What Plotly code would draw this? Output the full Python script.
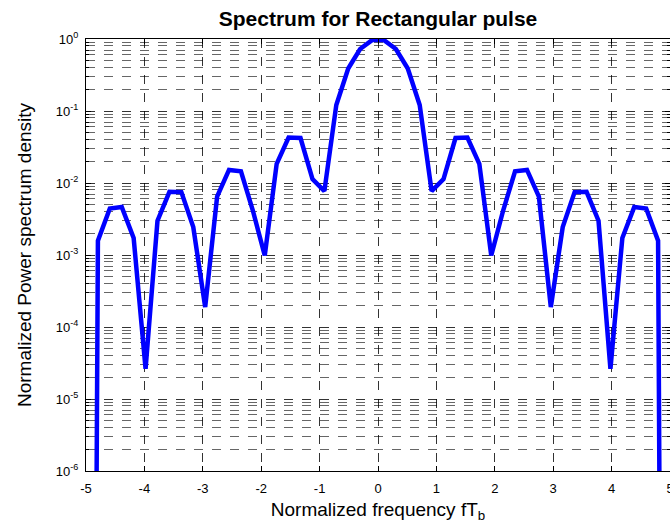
import plotly.graph_objects as go

# Normalized frequency samples (positive half, mirrored below)
freq_pos = [0.102, 0.306, 0.510, 0.714, 0.918, 1.122, 1.327, 1.531, 1.735, 1.939,
            2.143, 2.347, 2.551, 2.755, 2.959, 3.163, 3.367, 3.571, 3.776, 3.980,
            4.184, 4.388, 4.592, 4.796, 5.000]
# Normalized power spectral density at those samples
psd_pos = [0.966, 0.727, 0.389, 0.121, 0.00773, 0.0113, 0.0421, 0.0428, 0.0185, 0.000985,
           0.00415, 0.0145, 0.0152, 0.00646, 0.000189, 0.00244, 0.00747, 0.00755, 0.00299, 2.63e-5,
           0.00172, 0.00464, 0.00442, 0.00158, 1.5e-33]

freq = [-v for v in freq_pos[::-1]] + freq_pos
psd = psd_pos[::-1] + psd_pos

x_ticks = [-5, -4, -3, -2, -1, 0, 1, 2, 3, 4, 5]
y_exps = [-6, -5, -4, -3, -2, -1, 0]

fig = go.Figure()
fig.add_trace(go.Scatter(x=freq, y=psd, mode="lines",
                         line=dict(color="rgb(0,0,255)", width=4.5),
                         showlegend=False))

minor_vals = [m * 10.0 ** e for e in y_exps[:-1] for m in range(2, 10)]
font = "Liberation Sans, Arial, sans-serif"

fig.update_layout(
    width=670, height=526,
    margin=dict(l=86, r=0, t=39, b=55, autoexpand=False),
    paper_bgcolor="white", plot_bgcolor="white",
    font=dict(family=font, size=13, color="black"),
    title=dict(text="<b>Spectrum for Rectangular pulse</b>", x=(86 + 670) / 2 / 670,
               xanchor="center", y=1 - 19 / 526, yanchor="middle",
               font=dict(size=21, family=font)),
    xaxis=dict(range=[-5, 5], tickvals=x_ticks, ticktext=[str(v) for v in x_ticks],
               automargin=False,
               showline=True, linecolor="black", linewidth=1, mirror="ticks",
               ticks="inside", ticklen=5, tickcolor="black",
               ticklabelstandoff=5, ticklabeloverflow="allow",
               showgrid=True, gridcolor="rgba(0,0,0,0.8)", griddash="dash", gridwidth=1,
               zeroline=False,
               title=dict(text="Normalized frequency fT<sub>b</sub>", standoff=8,
                          font=dict(size=19))),
    yaxis=dict(type="log", range=[-6, 0],
               tickvals=[10.0 ** e for e in y_exps],
               ticktext=["10<sup>%d</sup>" % e for e in y_exps],
               automargin=False,
               showline=True, linecolor="black", linewidth=1, mirror="allticks",
               ticks="inside", ticklen=5, tickcolor="black",
               ticklabelstandoff=4,
               showgrid=True, gridcolor="rgba(0,0,0,0.8)", griddash="dash", gridwidth=1,
               zeroline=False,
               minor=dict(tickvals=minor_vals, showgrid=True, gridcolor="rgba(0,0,0,0.6)",
                          griddash="dash", gridwidth=1, ticks="inside", ticklen=3,
                          tickcolor="black"),
               title=dict(text="Normalized Power spectrum density", standoff=19,
                          font=dict(size=19))),
)

fig.write_html("out.html")
